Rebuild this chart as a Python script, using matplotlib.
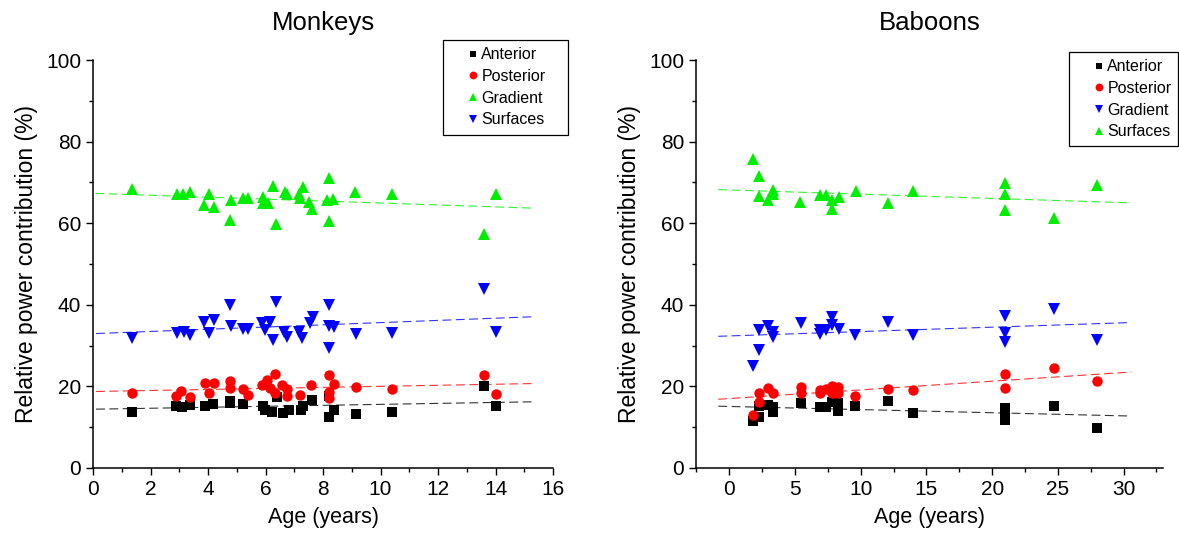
import numpy as np
import matplotlib
matplotlib.use('Agg')
import matplotlib.pyplot as plt
from matplotlib.ticker import MultipleLocator

plt.rcParams['font.family'] = ['Liberation Sans', 'DejaVu Sans']

# ---- Monkeys ----
mk_ant_x = [1.37, 2.9, 3.1, 3.37, 3.9, 4.18, 4.77, 4.77, 5.23, 5.9, 5.98, 6.21, 6.39,
            6.62, 6.82, 7.22, 7.32, 7.61, 8.19, 8.19, 8.38, 9.14, 10.39, 13.61, 14.02]
mk_ant_y = [13.8, 15.2, 15.0, 15.4, 15.2, 15.6, 16.0, 16.5, 15.8, 15.2, 14.2, 13.8, 17.5,
            13.6, 14.2, 14.2, 15.2, 16.7, 17.6, 12.6, 14.2, 13.2, 13.8, 20.2, 15.3]

mk_post_x = [1.37, 3.05, 2.9, 3.37, 3.9, 4.22, 4.03, 4.77, 4.77, 5.21, 5.38, 5.87, 6.04,
             6.33, 6.16, 6.33, 6.58, 6.74, 6.76, 7.2, 7.57, 8.19, 8.38, 8.19, 8.19, 9.14,
             10.39, 13.61, 14.02]
mk_post_y = [18.3, 18.9, 17.6, 17.5, 20.8, 20.8, 18.3, 21.3, 19.7, 19.3, 17.9, 20.3, 21.6,
             23.0, 19.5, 18.3, 20.3, 19.3, 17.6, 17.9, 20.3, 22.8, 20.5, 18.7, 17.1, 19.9,
             19.4, 22.8, 18.1]

mk_grad_x = [1.35, 2.93, 3.14, 3.37, 4.03, 3.87, 4.21, 4.79, 4.77, 5.21, 5.40, 5.92, 5.92,
             6.10, 6.27, 6.37, 6.68, 6.76, 7.18, 7.29, 7.20, 7.52, 7.61, 8.19, 8.15, 8.36,
             8.19, 9.11, 10.39, 13.61, 14.02]
mk_grad_y = [68.3, 67.3, 67.2, 67.6, 67.3, 64.6, 64.1, 65.7, 60.8, 66.3, 66.3, 66.5, 64.9,
             65.0, 69.1, 59.8, 67.7, 67.1, 67.3, 68.9, 66.3, 65.3, 63.4, 71.0, 65.7, 65.9,
             60.5, 67.6, 67.3, 57.4, 67.1]

mk_surf_x = [1.37, 2.93, 3.17, 3.37, 3.87, 4.21, 4.03, 4.77, 4.79, 5.21, 5.40, 5.89, 6.16,
             5.98, 6.25, 6.37, 6.65, 6.76, 7.18, 7.26, 7.55, 7.64, 8.19, 8.19, 8.38, 8.19,
             9.14, 10.39, 13.61, 14.02]
mk_surf_y = [31.9, 33.0, 33.3, 32.6, 35.9, 36.3, 33.2, 40.0, 34.8, 34.0, 34.0, 35.6, 35.9,
             33.8, 31.4, 40.8, 33.4, 32.2, 33.4, 31.8, 35.5, 37.1, 40.0, 34.8, 34.5, 29.3,
             32.8, 33.0, 43.8, 33.4]

# ---- Baboons ----
bb_ant_x = [1.78, 2.29, 2.29, 2.97, 3.30, 3.30, 5.46, 6.91, 7.36, 7.80, 8.30, 8.30, 9.57,
            12.11, 14.01, 21.0, 21.0, 21.0, 24.68, 27.98]
bb_ant_y = [11.5, 12.6, 15.2, 15.4, 13.8, 15.0, 15.9, 15.0, 15.0, 16.3, 15.9, 14.0, 15.3,
            16.5, 13.4, 14.6, 11.8, 13.2, 15.2, 9.9]

bb_post_x = [1.78, 2.29, 2.29, 2.97, 3.30, 5.46, 5.46, 6.91, 6.91, 7.36, 7.80, 7.80, 8.30,
             8.30, 9.57, 12.11, 14.01, 21.0, 21.0, 24.68, 27.98]
bb_post_y = [13.0, 18.3, 16.3, 19.5, 18.5, 19.9, 18.5, 19.1, 18.3, 19.3, 20.1, 18.3, 19.9,
             18.3, 17.6, 19.4, 19.1, 23.0, 19.5, 24.4, 21.4]

bb_grad_x = [1.78, 2.29, 2.29, 2.97, 3.30, 3.30, 5.46, 6.91, 6.91, 7.36, 7.80, 7.80, 8.38,
             9.57, 12.11, 14.01, 21.0, 21.0, 21.0, 24.68, 27.98]
bb_grad_y = [25.0, 28.9, 33.8, 34.9, 33.4, 32.0, 35.6, 33.8, 32.8, 33.8, 37.1, 35.0, 34.2,
             32.6, 35.9, 32.6, 37.3, 33.2, 31.0, 39.1, 31.4]

bb_surf_x = [1.78, 2.29, 2.29, 2.97, 3.30, 3.30, 5.38, 6.91, 7.36, 7.80, 7.80, 8.38, 9.65,
             12.11, 14.01, 21.0, 21.0, 21.0, 24.68, 27.98]
bb_surf_y = [75.7, 71.6, 66.7, 65.7, 68.1, 67.1, 65.3, 66.9, 66.9, 65.7, 63.5, 66.5, 68.0,
             64.9, 68.0, 69.8, 67.3, 63.2, 61.3, 69.4]

mk_series = [
    ('Anterior', mk_ant_x, mk_ant_y, 's', 'black', 6.5),
    ('Posterior', mk_post_x, mk_post_y, 'o', '#ff0000', 7.5),
    ('Gradient', mk_grad_x, mk_grad_y, '^', '#00ee00', 8),
    ('Surfaces', mk_surf_x, mk_surf_y, 'v', '#0000ff', 8),
]
bb_series = [
    ('Anterior', bb_ant_x, bb_ant_y, 's', 'black', 6.5),
    ('Posterior', bb_post_x, bb_post_y, 'o', '#ff0000', 7.5),
    ('Gradient', bb_grad_x, bb_grad_y, 'v', '#0000ff', 8),
    ('Surfaces', bb_surf_x, bb_surf_y, '^', '#00ee00', 8),
]


def draw_panel(ax, series, title, xlim, xmajor, xminor, legend_box):
    for name, xs, ys, mk, col, ms in series:
        xs = np.asarray(xs)
        ys = np.asarray(ys)
        ax.plot(xs, ys, linestyle='none', marker=mk, color=col, ms=ms,
                markeredgewidth=0, label=name, zorder=3)
        # linear fit, drawn 10% past the data range on both sides
        k, b = np.polyfit(xs, ys, 1)
        pad = 0.1 * (xs.max() - xs.min())
        fx = np.array([xs.min() - pad, xs.max() + pad])
        ax.plot(fx, k * fx + b, '--', color=col, lw=0.8, dashes=(8, 4),
                alpha=0.8, zorder=2)

    ax.set_xlim(*xlim)
    ax.set_ylim(0, 100)
    ax.xaxis.set_major_locator(MultipleLocator(xmajor))
    ax.xaxis.set_minor_locator(MultipleLocator(xminor))
    ax.yaxis.set_major_locator(MultipleLocator(20))
    ax.yaxis.set_minor_locator(MultipleLocator(10))
    ax.tick_params(which='major', direction='out', length=5, width=1,
                   labelsize=15)
    ax.tick_params(which='minor', direction='out', length=3, width=1)
    for s in ['top', 'right']:
        ax.spines[s].set_visible(False)
    for s in ['left', 'bottom']:
        ax.spines[s].set_linewidth(1.1)
    ax.set_xlabel('Age (years)', fontsize=15.5, labelpad=6)
    ax.set_ylabel('Relative power contribution (%)', fontsize=16.5, labelpad=6)
    ax.set_title(title, fontsize=18.5, pad=22)
    leg = ax.legend(loc='upper left', bbox_to_anchor=legend_box, mode='expand',
                    borderaxespad=0, fontsize=11.5, markerscale=0.75,
                    handlelength=2.8, handletextpad=-0.85, labelspacing=0.42,
                    borderpad=0.45, fancybox=False, edgecolor='black',
                    framealpha=1)
    leg.get_frame().set_linewidth(0.9)
    leg.set_zorder(5)


fig = plt.figure(figsize=(11.79, 5.37), dpi=100)
ax1 = fig.add_axes([0.0789, 0.1285, 0.3902, 0.7595])
ax2 = fig.add_axes([0.5903, 0.1285, 0.3961, 0.7595])

draw_panel(ax1, mk_series, 'Monkeys', (0, 16), 2, 1, (0.761, 0.0, 0.272, 1.049))
draw_panel(ax2, bb_series, 'Baboons', (-2.54, 33.0), 5, 2.5, (0.799, 0.0, 0.233, 1.020))

fig.savefig('out.png', dpi=100)
